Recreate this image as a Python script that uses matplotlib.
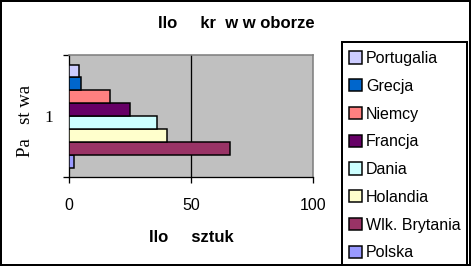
import matplotlib

matplotlib.use("Agg")
import matplotlib.pyplot as plt
from matplotlib.patches import Rectangle

# series in Excel order (first series drawn at the bottom)
countries = ["Polska", "Wlk. Brytania", "Holandia", "Dania", "Francja", "Niemcy", "Grecja", "Portugalia"]
cows = [2, 66, 40, 36, 25, 17, 5, 4]
bar_colors = ["#9999FF", "#993366", "#FFFFCC", "#CCFFFF", "#660066", "#FF8080", "#0066CC", "#CCCCFF"]
x_ticks = [0, 50, 100]
category_labels = ["1"]

title = "Ilo     kr  w w oborze"
x_title = "Ilo     sztuk"
y_title = "Pa   st wa"

W, H = 472, 267
PT = 0.72  # points per pixel at dpi 100

plt.rcParams["font.family"] = ["Liberation Sans", "DejaVu Sans"]

fig = plt.figure(figsize=(W / 100, H / 100), dpi=100)
ax = fig.add_axes([69 / W, 1 - 177 / H, 244 / W, 122 / H])
ax.set_facecolor("#C0C0C0")

n = len(countries)
bar_h = (103 / 122) / n
for i, (name, val, col) in enumerate(zip(countries, cows, bar_colors)):
    ax.barh(1 + (i - (n - 1) / 2) * bar_h, val, height=bar_h, color=col,
            edgecolor="black", linewidth=1.5 * PT, label=name, zorder=3)

ax.set_xlim(0, 100)
ax.set_ylim(0.5, 1.5)
ax.axvline(50, color="black", linewidth=1.3 * PT, zorder=1)

ax.set_xticks(x_ticks)
ax.set_xticklabels([str(t) for t in x_ticks], fontsize=11.5)
ax.tick_params(axis="x", direction="out", length=6 * PT, width=1.3 * PT, pad=11)

ax.set_yticks([1])
ax.set_yticklabels(category_labels, fontsize=12.5, family=["Liberation Serif", "DejaVu Serif"])
ax.set_yticks([0.5, 1.5], minor=True)
ax.tick_params(axis="y", which="major", length=0, pad=11.5)
ax.tick_params(axis="y", which="minor", direction="out", length=6 * PT, width=1.3 * PT)

for side in ("left", "bottom"):
    ax.spines[side].set_color("black")
    ax.spines[side].set_linewidth(1.3 * PT)
for side in ("top", "right"):
    ax.spines[side].set_color("#808080")
    ax.spines[side].set_linewidth(1.6 * PT)

fig.text(236 / W, 1 - 23 / H, title, ha="center", va="center", fontsize=12, fontweight="bold")
fig.text(191 / W, 1 - 237 / H, x_title, ha="center", va="center", fontsize=12, fontweight="bold")
fig.text(26 / W, 1 - 121 / H, y_title, ha="center", va="center", rotation=90, fontsize=13.5,
         family=["Liberation Serif", "DejaVu Serif"])

# legend box and outer chart border
fig.patches.append(Rectangle((342 / W, 1 - 265 / H), 125 / W, 223 / H, transform=fig.transFigure,
                             fill=False, edgecolor="black", linewidth=2 * PT))
fig.patches.append(Rectangle((1 / W, 1 - 265 / H), 468.5 / W, 264 / H, transform=fig.transFigure,
                             fill=False, edgecolor="black", linewidth=2 * PT))

handles, labels = ax.get_legend_handles_labels()
fig.legend(handles[::-1], labels[::-1], loc="upper left", bbox_to_anchor=(349 / W, 1 - 51 / H),
           frameon=False, fontsize=11.5, borderpad=0, borderaxespad=0,
           handlelength=0.8, handleheight=0.8, handletextpad=0.25, labelspacing=0.8)

fig.savefig("out.png", dpi=100)
